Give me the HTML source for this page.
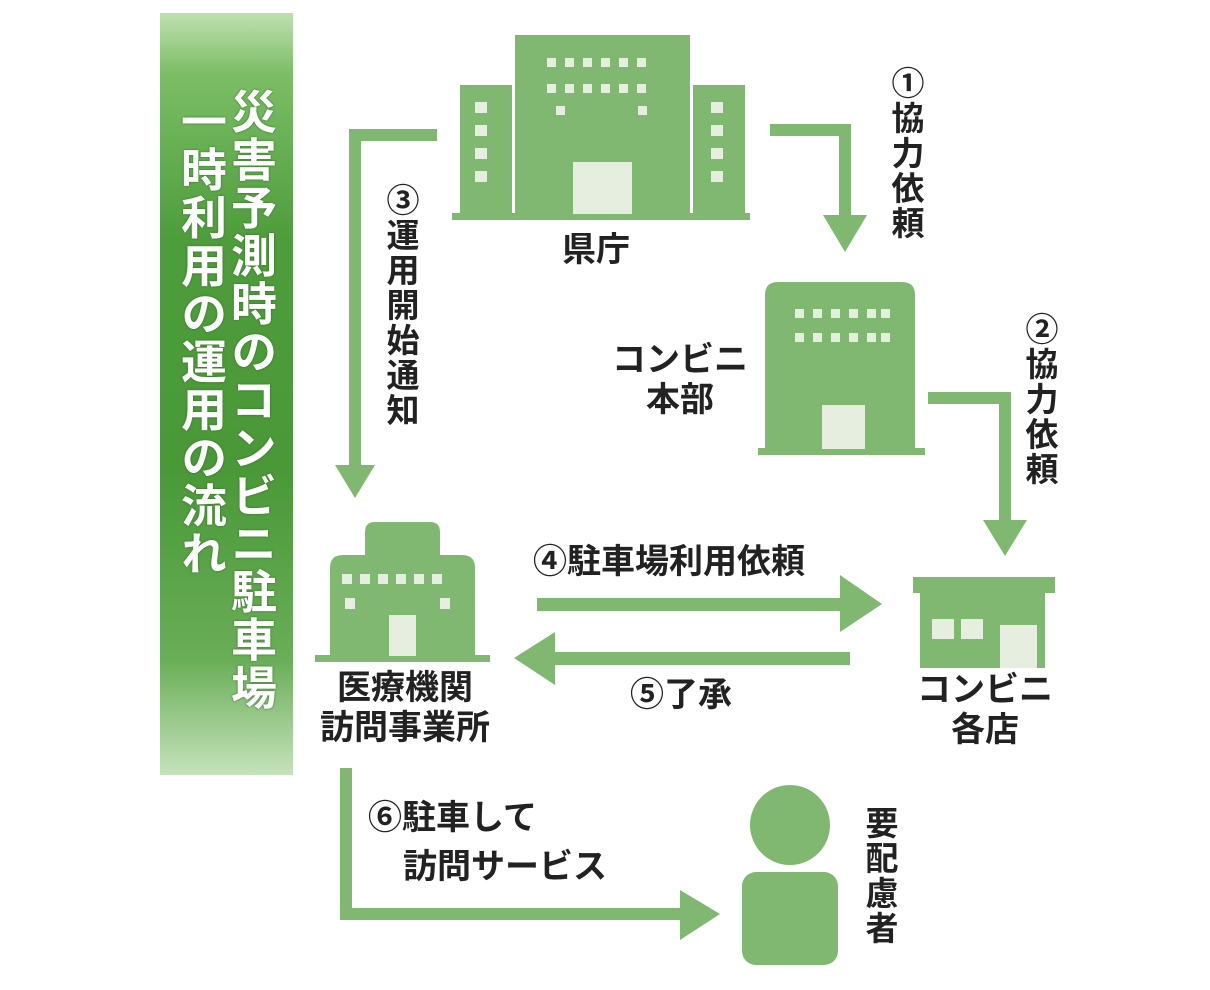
<!DOCTYPE html>
<html><head><meta charset="utf-8"><style>
body{margin:0;background:#fff;width:1210px;height:990px;position:relative;overflow:hidden;font-family:"Liberation Sans","Noto Sans CJK JP",sans-serif}
.v{position:absolute;writing-mode:vertical-rl;font-weight:bold;color:#222;font-size:33px;line-height:36px;letter-spacing:2px}
.t{position:absolute;font-weight:bold;color:#222;font-size:34px;line-height:40px;white-space:nowrap}
#bar{position:absolute;left:160px;top:13px;width:133px;height:762px;background:linear-gradient(#bfe0b0 0%,#7cbd66 8%,#4e9c3c 30%,#4a9838 60%,#6aae58 85%,#c6e2bc 100%)}
.tv{position:absolute;writing-mode:vertical-rl;color:#fff;font-weight:bold;font-size:46px;line-height:50px;letter-spacing:2px;text-shadow:0 0 2px #2e6a22}
</style></head><body>
<div id="bar"></div>
<div class="tv" style="left:226px;top:88px">災害予測時のコンビニ駐車場</div>
<div class="tv" style="left:176px;top:98px">一時利用の運用の流れ</div>

<svg width="1210" height="990" style="position:absolute;left:0;top:0">
<g fill="#80b872">
<rect x="515" y="35" width="175" height="180"/>
<rect x="460" y="85" width="52" height="130"/>
<rect x="693" y="85" width="52" height="130"/>
<rect x="452" y="213" width="298" height="7"/>
<rect x="770" y="124" width="81" height="12"/>
<rect x="839" y="124" width="12" height="96"/>
<polygon points="823,215 867,215 845,252"/>
<rect x="349" y="129" width="88" height="12"/>
<rect x="349" y="129" width="12" height="340"/>
<polygon points="335,465 375,465 355,498"/>
<path d="M765,450 V295 Q765,282 778,282 H902 Q915,282 915,295 V450Z"/>
<rect x="758" y="448" width="167" height="7"/>
<rect x="928" y="392" width="83" height="12"/>
<rect x="999" y="392" width="12" height="130"/>
<polygon points="983,520 1027,520 1005,556"/>
<path d="M365,560 V532 Q365,522 375,522 H430 Q440,522 440,532 V560Z"/>
<path d="M330,658 V568 Q330,555 343,555 H462 Q475,555 475,568 V658Z"/>
<rect x="315" y="655" width="175" height="7"/>
<rect x="537" y="598" width="310" height="13"/>
<polygon points="840,575 882,604 840,632"/>
<rect x="550" y="652" width="300" height="13"/>
<polygon points="555,632 514,658 555,685"/>
<rect x="913" y="577" width="142" height="16"/>
<rect x="920" y="593" width="125" height="75"/>
<rect x="340" y="768" width="12" height="152"/>
<rect x="340" y="908" width="345" height="12"/>
<polygon points="680,890 720,914 680,940"/>
<circle cx="790" cy="825" r="40"/>
<rect x="742" y="872" width="96" height="93" rx="14"/>
</g>
<g fill="#e6eee0">
<g id="r1"><rect x="547" y="58" width="9" height="9"/><rect x="565" y="58" width="9" height="9"/><rect x="583" y="58" width="9" height="9"/><rect x="601" y="58" width="9" height="9"/><rect x="619" y="58" width="9" height="9"/><rect x="637" y="58" width="9" height="9"/></g>
<use href="#r1" y="26"/>
<rect x="556" y="106" width="9" height="9"/><rect x="638" y="106" width="9" height="9"/>
<rect x="475" y="102" width="12" height="11"/><rect x="475" y="125" width="12" height="11"/><rect x="475" y="148" width="12" height="11"/><rect x="475" y="171" width="12" height="11"/>
<rect x="711" y="102" width="12" height="11"/><rect x="711" y="125" width="12" height="11"/><rect x="711" y="148" width="12" height="11"/><rect x="711" y="171" width="12" height="11"/>
<rect x="573" y="162" width="59" height="52"/>
<g id="h1"><rect x="795" y="309" width="9" height="9"/><rect x="813" y="309" width="9" height="9"/><rect x="831" y="309" width="9" height="9"/><rect x="849" y="309" width="9" height="9"/><rect x="867" y="309" width="9" height="9"/><rect x="881" y="309" width="9" height="9"/></g>
<use href="#h1" y="24"/>
<rect x="822" y="405" width="43" height="44"/>
<rect x="342" y="574" width="10" height="10"/><rect x="360" y="574" width="10" height="10"/><rect x="378" y="574" width="10" height="10"/><rect x="396" y="574" width="10" height="10"/><rect x="414" y="574" width="10" height="10"/><rect x="432" y="574" width="10" height="10"/>
<rect x="345" y="598" width="10" height="11"/><rect x="440" y="598" width="10" height="11"/>
<rect x="389" y="615" width="27" height="41"/>
<rect x="932" y="619" width="22" height="20"/><rect x="961" y="619" width="22" height="20"/><rect x="1000" y="625" width="37" height="43"/>
</g>
</svg>

<div class="t" style="left:562px;top:230px">県庁</div>
<div class="v" style="left:887px;top:66px">①協力依頼</div>
<div class="v" style="left:382px;top:183px">③運用開始通知</div>
<div class="t" style="left:605px;top:340px;width:150px;text-align:center">コンビニ<br>本部</div>
<div class="v" style="left:1021px;top:312px">②協力依頼</div>
<div class="t" style="left:533px;top:542px">④駐車場利用依頼</div>
<div class="t" style="left:630px;top:675px">⑤了承</div>
<div class="t" style="left:315px;top:668px;width:180px;text-align:center">医療機関<br>訪問事業所</div>
<div class="t" style="left:905px;top:670px;width:160px;text-align:center">コンビニ<br>各店</div>
<div class="t" style="left:368px;top:798px">⑥駐車して</div>
<div class="t" style="left:403px;top:847px">訪問サービス</div>
<div class="v" style="left:861px;top:806px">要配慮者</div>
</body></html>
